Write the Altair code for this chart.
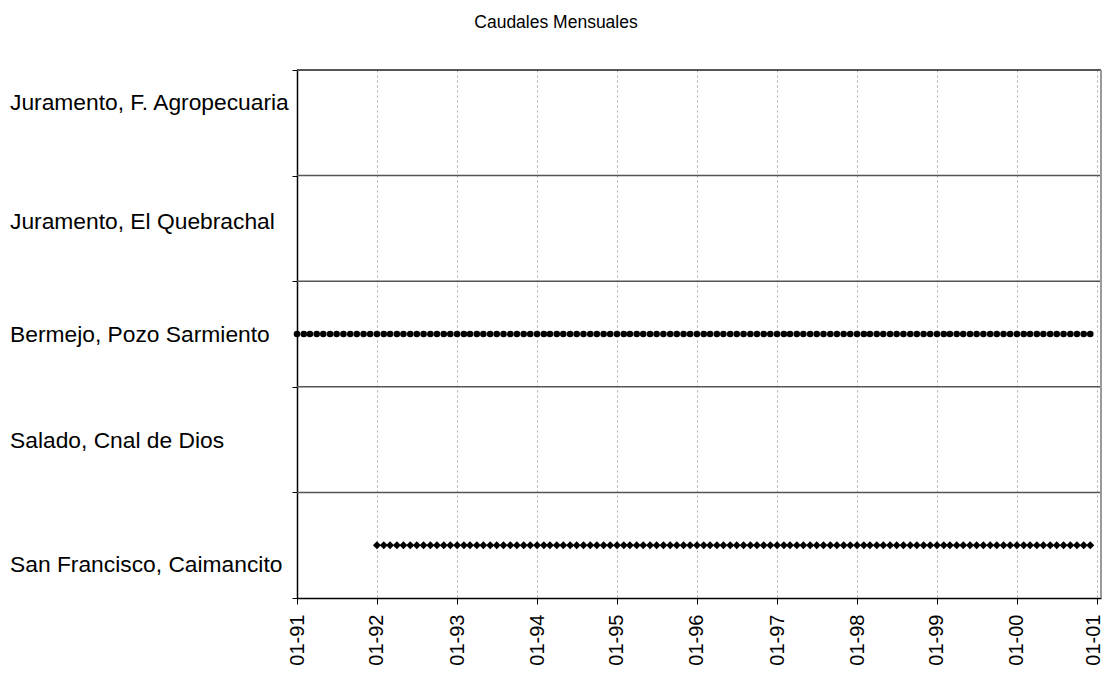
import altair as alt
import pandas as pd

# Stations (top to bottom) and label positions (band units, 0 = bottom)
stations = ["Juramento, F. Agropecuaria", "Juramento, El Quebrachal",
            "Bermejo, Pozo Sarmiento", "Salado, Cnal de Dios",
            "San Francisco, Caimancito"]
label_y = [4.69, 3.56, 2.49, 1.49, 0.31]
band_lines = [1, 2, 3, 4]

# Series with monthly records: station, band level, first month, last month
series_names = ["Bermejo, Pozo Sarmiento", "San Francisco, Caimancito"]
series_level = [2.5, 0.5]
series_start = ["1991-01-01", "1992-01-01"]
series_end = ["2000-12-01", "2000-12-01"]

tick_years = list(range(1991, 2002))

rows = []
for n, lv, s, e in zip(series_names, series_level, series_start, series_end):
    for d in pd.date_range(s, e, freq="MS"):
        rows.append({"station": n, "level": lv, "date": d.strftime("%Y-%m-%d")})
pts = pd.DataFrame(rows)

labels_df = pd.DataFrame({"station": stations, "y": label_y})
bands_df = pd.DataFrame({"y": band_lines})

x_dom = [alt.DateTime(year=1991, month=1, date=1, utc=True),
         alt.DateTime(year=2001, month=1, date=19, utc=True)]
x_scale = alt.Scale(domain=x_dom, nice=False)
y_scale = alt.Scale(domain=[0, 5], nice=False, zero=False)
tick_vals = [alt.DateTime(year=y, month=1, date=1, utc=True) for y in tick_years]

FONT = "Liberation Sans"
W, H = 804, 528

x_axis = alt.Axis(values=tick_vals, format="%m-%y",
                  labelAngle=270, labelAlign="right", labelBaseline="middle",
                  labelFontSize=20, labelFont=FONT, labelColor="black", labelPadding=10,
                  labelOffset={"condition": {"test": f"utcyear(datum.value) >= {tick_years[-1]}",
                                             "value": -4}, "value": 0},
                  tickSize=6, tickColor="black", domainColor="black", domainWidth=1.5,
                  grid=True, gridDash=[2, 3], gridColor="#aaaaaa", gridWidth=1,
                  title=None)
y_axis = alt.Axis(values=[0, 1, 2, 3, 4, 5], labels=False, tickSize=5, tickColor="black",
                  domainColor="black", domainWidth=1.5, grid=False, title=None)

grid_layer = alt.Chart(pts).mark_point(opacity=0).encode(
    x=alt.X("date:T", scale=x_scale, axis=x_axis, timeUnit="utcyearmonthdate"),
    y=alt.Y("level:Q", scale=y_scale, axis=y_axis),
)

bands = alt.Chart(bands_df).mark_rule(color="#555555", strokeWidth=1.5).encode(
    y=alt.Y("y:Q", scale=y_scale),
    x=alt.value(0), x2=alt.value(W),
)

top_border = alt.Chart(bands_df).mark_rule(color="#555555", strokeWidth=1.5).encode(
    x=alt.value(0), x2=alt.value(W), y=alt.value(0),
)
right_border = alt.Chart(bands_df).mark_rule(color="#999999", strokeWidth=2).encode(
    x=alt.value(W), y=alt.value(0), y2=alt.value(H),
)

circles = alt.Chart(pts).transform_filter(
    alt.datum.station == series_names[0]
).mark_point(shape="circle", filled=True, color="black", size=44, opacity=1).encode(
    x=alt.X("date:T", scale=x_scale, timeUnit="utcyearmonthdate"),
    y=alt.Y("level:Q", scale=y_scale),
)
diamonds = alt.Chart(pts).transform_filter(
    alt.datum.station == series_names[1]
).mark_point(shape="diamond", filled=True, color="black", size=64, opacity=1).encode(
    x=alt.X("date:T", scale=x_scale, timeUnit="utcyearmonthdate"),
    y=alt.Y("level:Q", scale=y_scale),
)

labels = alt.Chart(labels_df).mark_text(
    align="left", baseline="middle", fontSize=22.8, font=FONT, color="black"
).encode(
    x=alt.value(-287),
    y=alt.Y("y:Q", scale=y_scale),
    text="station:N",
)

chart = alt.layer(grid_layer, bands, top_border, right_border, circles, diamonds, labels).properties(
    width=W, height=H,
    title=alt.TitleParams("Caudales Mensuales", fontSize=17.5, font=FONT, fontWeight="normal",
                          color="black", anchor="middle", frame="group", offset=38, dx=-143),
    autosize=alt.AutoSizeParams(type="none"),
    padding={"left": 289, "top": 62, "right": 3, "bottom": 77},
).configure_view(stroke=None).configure(background="white")

chart.save("out.html", embed_options={"renderer": "svg", "actions": False})
